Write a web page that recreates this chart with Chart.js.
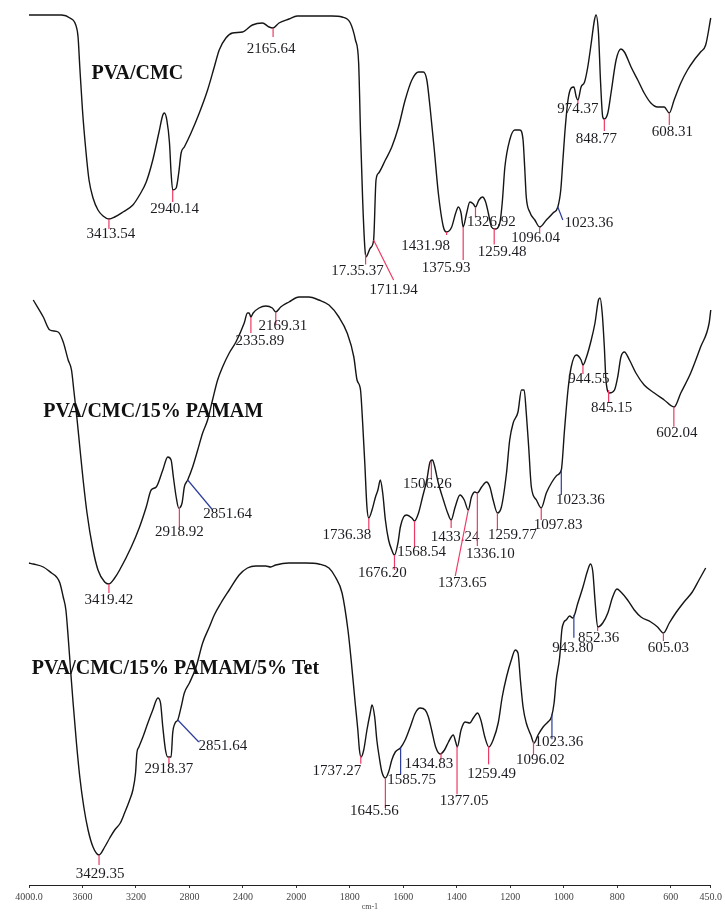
<!DOCTYPE html>
<html lang="en">

<head>
    <meta charset="UTF-8">
    <title>FTIR</title>
    <script src="https://cdn.jsdelivr.net/npm/chart.js"></script>
</head>

<style>
    * {
        box-sizing: border-box;
        margin: 0;
        padding: 0;
    }

    body {
        background: #fff;
        overflow: hidden;
    }
</style>

<body>
    <canvas id="ftirChart" width="725" height="912"></canvas>

    <script>
        // sample names
        const seriesNames = ['PVA/CMC', 'PVA/CMC/15% PAMAM', 'PVA/CMC/15% PAMAM/5% Tet'];

        // x axis ticks (cm-1)
        const tickValues = [4000, 3600, 3200, 2800, 2400, 2000, 1800, 1600, 1400, 1200, 1000, 800, 600, 450];
        const tickLabels = ['4000.0', '3600', '3200', '2800', '2400', '2000', '1800', '1600', '1400', '1200', '1000', '800', '600', '450.0'];

        // PVA/CMC  (wavenumber, stacked transmittance a.u.)
        const wn1 = [4000, 3756, 3694, 3650, 3633, 3620, 3600, 3575, 3551, 3521,
            3484, 3446, 3402, 3359, 3297, 3223, 3173, 3123, 3074, 3029,
            2999, 2987, 2969, 2949, 2937, 2925, 2899, 2880, 2862, 2838,
            2788, 2726, 2664, 2614, 2577, 2527, 2478, 2403, 2329, 2254,
            2204, 2174, 2130, 2055, 1997, 1867, 1829, 1798, 1779, 1767,
            1760, 1752, 1744, 1740, 1723, 1711, 1702, 1692, 1667, 1643,
            1618, 1593, 1568, 1543, 1525, 1512, 1500, 1484, 1469, 1450,
            1438, 1419, 1404, 1394, 1384, 1376, 1363, 1351, 1338, 1330,
            1317, 1304, 1292, 1282, 1270, 1257, 1239, 1230, 1220, 1202,
            1183, 1164, 1152, 1146, 1140, 1127, 1108, 1090, 1065, 1040,
            1022, 1011, 1003, 994, 984, 972, 962, 953, 947, 935,
            922, 910, 897, 885, 879, 870, 862, 854, 848, 835,
            823, 804, 786, 773, 748, 723, 699, 674, 649, 624,
            605, 587, 562, 537, 512, 488, 469, 450];
        const t1 = [87.0, 87.0, 86.7, 86.0, 84.8, 81.8, 77.5, 73.5, 70.5, 68.7,
            67.5, 66.9, 66.6, 66.8, 67.3, 68.0, 69.0, 70.3, 72.5, 75.2,
            77.0, 77.2, 76.5, 74.2, 71.2, 69.5, 69.7, 71.2, 73.2, 73.8,
            75.2, 77.2, 79.5, 81.8, 83.5, 84.7, 85.2, 85.3, 86.0, 86.2,
            85.8, 85.7, 86.2, 86.6, 86.9, 86.9, 86.8, 86.2, 84.5, 82.2,
            75.2, 68.5, 63.8, 62.8, 63.7, 64.5, 70.5, 71.2, 72.5, 73.8,
            75.8, 78.5, 80.5, 81.3, 81.3, 80.5, 77.8, 73.5, 69.2, 65.8,
            65.3, 65.8, 67.2, 67.8, 67.2, 65.8, 67.2, 68.3, 68.1, 67.8,
            68.5, 68.8, 68.3, 67.2, 65.8, 65.6, 66.2, 68.2, 71.8, 74.5,
            75.5, 75.5, 74.5, 71.8, 68.8, 67.3, 66.5, 65.8, 66.5, 67.2,
            67.8, 69.5, 72.5, 75.8, 78.5, 79.7, 79.8, 78.8, 78.5, 79.8,
            80.3, 81.8, 84.2, 86.5, 87.0, 85.2, 80.2, 76.8, 76.6, 77.2,
            79.2, 82.5, 83.6, 83.3, 81.8, 80.5, 79.2, 78.2, 77.8, 77.8,
            77.2, 78.5, 80.2, 81.5, 82.5, 83.3, 84.0, 86.7];

        // PVA/CMC/15% PAMAM
        const wn2 = [3968, 3893, 3844, 3782, 3744, 3707, 3682, 3665, 3640, 3620,
            3595, 3566, 3525, 3484, 3434, 3402, 3359, 3322, 3235, 3173,
            3123, 3086, 3048, 2999, 2962, 2937, 2920, 2899, 2880, 2855,
            2838, 2813, 2776, 2738, 2701, 2664, 2627, 2589, 2552, 2502,
            2452, 2390, 2366, 2353, 2340, 2323, 2279, 2229, 2180, 2154,
            2117, 2055, 1990, 1953, 1916, 1878, 1841, 1810, 1785, 1773,
            1760, 1752, 1744, 1736, 1729, 1717, 1704, 1695, 1686, 1677,
            1667, 1655, 1643, 1633, 1620, 1611, 1599, 1587, 1568, 1558,
            1543, 1528, 1512, 1500, 1491, 1484, 1469, 1450, 1434, 1421,
            1406, 1388, 1372, 1357, 1345, 1332, 1323, 1307, 1289, 1276,
            1264, 1248, 1233, 1214, 1202, 1189, 1171, 1158, 1148, 1140,
            1131, 1121, 1102, 1084, 1065, 1046, 1024, 1009, 997, 984,
            972, 953, 935, 928, 916, 897, 883, 870, 864, 856,
            848, 842, 829, 810, 798, 786, 773, 754, 730, 699,
            661, 624, 587, 562, 525, 488, 456, 450];
        const t2 = [58.5, 56.8, 55.5, 55.3, 54.3, 52.5, 51.5, 49.5, 46.5, 43.8,
            40.5, 37.2, 33.8, 31.5, 30.3, 30.1, 30.7, 31.5, 33.8, 35.8,
            37.8, 39.5, 39.8, 41.5, 42.8, 42.5, 40.8, 38.8, 37.7, 38.2,
            39.8, 40.5, 41.8, 43.5, 45.2, 46.5, 48.5, 50.5, 51.8, 53.2,
            54.3, 56.2, 57.2, 57.2, 56.8, 57.2, 57.7, 57.9, 57.7, 57.3,
            57.8, 58.3, 58.8, 58.8, 58.5, 58.0, 56.8, 55.2, 52.8, 50.5,
            49.5, 46.2, 42.2, 37.8, 36.7, 37.5, 38.8, 39.5, 40.5, 39.2,
            36.5, 34.5, 33.5, 33.0, 34.2, 35.8, 36.8, 37.0, 36.7, 36.4,
            37.2, 38.8, 40.5, 42.3, 42.5, 42.0, 40.2, 38.5, 37.2, 36.5,
            37.8, 39.0, 38.5, 37.5, 38.8, 39.3, 39.2, 39.8, 40.3, 39.8,
            38.5, 37.2, 37.8, 41.2, 44.5, 46.2, 47.3, 49.5, 49.5, 47.2,
            43.8, 39.8, 38.5, 37.7, 39.2, 40.2, 41.0, 41.5, 45.5, 49.5,
            51.8, 53.0, 52.5, 52.0, 52.7, 54.5, 56.2, 58.5, 58.7, 57.2,
            53.8, 50.5, 49.2, 49.5, 50.8, 52.8, 53.3, 52.5, 51.2, 50.0,
            49.2, 48.5, 47.8, 49.2, 51.2, 53.8, 56.2, 57.5];

        // PVA/CMC/15% PAMAM/5% Tet
        const wn3 = [4000, 3968, 3893, 3831, 3794, 3769, 3744, 3724, 3707, 3689,
            3670, 3645, 3620, 3590, 3558, 3521, 3476, 3434, 3396, 3359,
            3317, 3285, 3247, 3223, 3203, 3193, 3178, 3148, 3111, 3074,
            3036, 3016, 2999, 2979, 2962, 2937, 2925, 2907, 2887, 2862,
            2838, 2800, 2750, 2701, 2651, 2614, 2564, 2502, 2428, 2366,
            2303, 2229, 2192, 2154, 2055, 1965, 1916, 1878, 1854, 1829,
            1807, 1795, 1781, 1770, 1764, 1758, 1748, 1736, 1723, 1717,
            1707, 1699, 1690, 1680, 1667, 1655, 1643, 1630, 1611, 1593,
            1574, 1555, 1537, 1518, 1506, 1494, 1479, 1462, 1446, 1431,
            1413, 1404, 1398, 1384, 1369, 1351, 1338, 1322, 1310, 1295,
            1280, 1264, 1245, 1230, 1214, 1196, 1181, 1171, 1162, 1152,
            1140, 1123, 1111, 1096, 1077, 1059, 1046, 1036, 1028, 1015,
            1007, 999, 991, 978, 966, 947, 928, 910, 900, 891,
            883, 873, 854, 835, 817, 801, 786, 761, 736, 711,
            674, 649, 627, 605, 581, 550, 519, 494, 469];
        const t3 = [32.2, 32.1, 31.8, 31.2, 30.8, 30.2, 28.8, 27.5, 24.8, 21.5,
            18.2, 14.2, 10.8, 7.8, 5.5, 3.8, 3.0, 3.8, 4.7, 5.5,
            6.2, 7.2, 8.5, 9.5, 11.2, 13.2, 13.8, 14.8, 16.2, 17.5,
            18.7, 18.2, 15.8, 13.5, 12.8, 12.8, 15.2, 16.2, 16.5, 17.8,
            19.2, 20.2, 21.8, 24.2, 25.8, 27.0, 28.2, 29.5, 31.0, 31.7,
            31.9, 31.9, 31.8, 32.0, 32.2, 32.2, 32.1, 31.7, 30.8, 29.2,
            25.5, 22.5, 18.5, 15.5, 13.5, 12.8, 13.5, 15.5, 17.3, 18.0,
            16.8, 14.5, 12.8, 11.3, 10.7, 11.3, 12.5, 13.3, 13.7, 14.5,
            15.8, 17.2, 17.7, 17.5, 16.8, 15.5, 13.8, 13.1, 13.5, 14.3,
            15.0, 14.3, 13.8, 15.5, 16.3, 16.2, 16.7, 17.2, 16.5, 14.8,
            13.8, 14.5, 16.2, 18.8, 20.8, 22.5, 23.5, 23.2, 20.5, 17.8,
            16.2, 15.0, 14.2, 15.0, 15.8, 16.3, 16.8, 18.2, 20.5, 22.8,
            25.5, 26.3, 26.5, 26.9, 26.7, 28.2, 29.8, 31.5, 32.1, 31.3,
            28.5, 25.8, 26.2, 27.2, 28.8, 29.6, 29.3, 28.5, 27.5, 26.8,
            26.3, 25.8, 25.2, 26.2, 27.2, 28.3, 29.3, 30.5, 31.7];

        // peak picks: marker position (cm-1) and printed value
        const peaks1 = [[3402, '3413.54'], [2925, '2940.14'], [2174, '2165.64'], [1741, '17.35.37'],
            [1711, '1711.94'], [1438, '1431.98'], [1376, '1375.93'], [1330, '1326.92'], [1260, '1259.48'],
            [1090, '1096.04'], [1022, '1023.36'], [947, '974.37'], [848, '848.77'], [605, '608.31']];
        const peaks2 = [[3402, '3419.42'], [2875, '2918.92'], [2813, '2851.64'], [2340, '2335.89'],
            [2154, '2169.31'], [1729, '1736.38'], [1633, '1676.20'], [1558, '1568.54'], [1495, '1506.26'],
            [1421, '1433.24'], [1357, '1373.65'], [1323, '1336.10'], [1248, '1259.77'], [1084, '1097.83'],
            [1009, '1023.36'], [928, '944.55'], [832, '845.15'], [588, '602.04']];
        const peaks3 = [[3476, '3429.35'], [2953, '2918.37'], [2887, '2851.64'], [1759, '1737.27'],
            [1667, '1645.56'], [1610, '1585.75'], [1459, '1434.83'], [1399, '1377.05'], [1281, '1259.49'],
            [1113, '1096.02'], [1044, '1023.36'], [962, '943.80'], [873, '852.36'], [627, '605.03']];

        // label layout: line end dx, dy / text centre dx, dy (px from the curve), colour
        const marks1 = [[0, 10, 2, 15, 'r'], [0, 12, 2, 19, 'r'], [0, 9, -2, 21, 'r'], [0, 10, -8, 17, 'r'],
            [20, 40, 20, 50, 'r'], [0, 3, -21, 14, 'r'], [0, 33, -17, 41, 'r'], [0, 10, 16, 15, 'r'], [0, 16, 8, 24, 'r'],
            [0, 5, -4, 11, 'r'], [5, 13, 31, 16, 'b'], [0, 4, 0, 9, 'r'], [0, 12, -8, 20, 'r'], [0, 12, 3, 19, 'r']];
        const marks2 = [[0, 9, 0, 16, 'r'], [0, 20, 0, 25, 'r'], [25, 30, 40, 34, 'b'], [0, 16, 9, 24, 'r'],
            [0, 13, 7, 14, 'r'], [0, 12, -22, 17, 'r'], [0, 15, -12, 18, 'r'], [0, 26, 7, 31, 'r'], [0, 18, -4, 23, 'r'],
            [0, 8, 4, 17, 'r'], [-13, 66, -6, 73, 'r'], [0, 53, 13, 61, 'r'], [0, 17, 15, 22, 'r'], [0, 12, 17, 17, 'r'],
            [0, 25, 19, 30, 'b'], [0, 9, 6, 14, 'r'], [0, 12, 3, 18, 'r'], [0, 20, 3, 26, 'r']];
        const marks3 = [[0, 10, 1, 19, 'r'], [0, 8, 0, 12, 'r'], [21, 22, 45, 26, 'b'], [0, 8, -24, 15, 'r'],
            [0, 30, -11, 33, 'r'], [0, 27, 11, 33, 'b'], [0, 7, -12, 11, 'r'], [0, 48, 7, 55, 'r'], [0, 18, 3, 28, 'r'],
            [0, 13, 7, 18, 'r'], [0, 25, 7, 28, 'b'], [0, 23, -1, 33, 'b'], [0, 4, 1, 11, 'r'], [0, 8, 5, 15, 'r']];

        // where the sample names sit (cm-1, a.u.)
        const titleAt = [[3533, 81.1], [3893, 47.3], [3980, 21.6]];

        const markColors = { r: '#ec3a64', b: '#2c3c9c' };
    </script>

    <script>
        // axis with the 2000 cm-1 scale change: above 2000 is drawn at half scale
        class WaveScale extends Chart.LinearScale {
            fold(v) {
                return v >= 2000 ? 2000 + (v - 2000) / 2 : v;
            }
            unfold(c) {
                return c >= 2000 ? 2000 + (c - 2000) * 2 : c;
            }
            getPixelForValue(v) {
                const a = this.fold(this.max), b = this.fold(this.min);
                return this.getPixelForDecimal((a - this.fold(v)) / (a - b));
            }
            getValueForPixel(p) {
                const a = this.fold(this.max), b = this.fold(this.min);
                return this.unfold(a - this.getDecimalForPixel(p) * (a - b));
            }
        }
        WaveScale.id = 'wave';
        WaveScale.defaults = Chart.LinearScale.defaults;
        Chart.register(WaveScale);

        function toPoints(xs, ys) {
            return xs.map((x, i) => ({ x: x, y: ys[i] }));
        }

        function curveY(pts, x) {
            for (let k = 0; k < pts.length - 1; k++) {
                const p = pts[k], q = pts[k + 1];
                if (x >= p.x && x <= q.x) {
                    const f = q.x === p.x ? 0 : (x - p.x) / (q.x - p.x);
                    return p.y + f * (q.y - p.y);
                }
            }
            return pts[pts.length - 1].y;
        }

        const allPeaks = [peaks1, peaks2, peaks3];
        const allMarks = [marks1, marks2, marks3];

        const peakLabels = {
            id: 'peakLabels',
            afterDatasetsDraw(chart) {
                const ctx = chart.ctx;
                const xs = chart.scales.x, ys = chart.scales.y;
                ctx.save();
                allPeaks.forEach((peaks, i) => {
                    const pts = chart.getDatasetMeta(i).data;
                    peaks.forEach((pk, j) => {
                        const m = allMarks[i][j];
                        const x = xs.getPixelForValue(pk[0]);
                        const y = curveY(pts, x);
                        ctx.strokeStyle = markColors[m[4]];
                        ctx.lineWidth = 1.2;
                        ctx.beginPath();
                        ctx.moveTo(x, y);
                        ctx.lineTo(x + m[0], y + m[1]);
                        ctx.stroke();
                        ctx.fillStyle = '#1c1c22';
                        ctx.font = '15px "Liberation Serif"';
                        ctx.textAlign = 'center';
                        ctx.textBaseline = 'middle';
                        ctx.fillText(pk[1], x + m[2], y + m[3]);
                    });
                });
                ctx.fillStyle = '#111';
                ctx.font = 'bold 20px "Liberation Serif"';
                ctx.textAlign = 'left';
                ctx.textBaseline = 'middle';
                seriesNames.forEach((name, i) => {
                    ctx.fillText(name, xs.getPixelForValue(titleAt[i][0]), ys.getPixelForValue(titleAt[i][1]));
                });
                ctx.restore();
            }
        };

        const traceData = [toPoints(wn1, t1), toPoints(wn2, t2), toPoints(wn3, t3)];

        const config = {
            type: 'line',
            data: {
                datasets: traceData.map((d, i) => ({
                    label: seriesNames[i],
                    data: d,
                    borderColor: '#151515',
                    borderWidth: 1.4,
                    pointRadius: 0,
                    cubicInterpolationMode: 'monotone',
                    clip: false
                }))
            },
            plugins: [peakLabels],
            options: {
                responsive: false,
                animation: false,
                devicePixelRatio: 1,
                layout: {
                    padding: { left: 29, right: 11, top: 15, bottom: 0 }
                },
                plugins: {
                    legend: { display: false },
                    tooltip: { enabled: false }
                },
                scales: {
                    x: {
                        type: 'wave',
                        min: 450,
                        max: 4000,
                        afterBuildTicks: (s) => {
                            s.ticks = tickValues.map(v => ({ value: v }));
                        },
                        afterFit: (s) => {
                            s.height = 27;
                        },
                        grid: {
                            drawOnChartArea: false,
                            drawTicks: true,
                            tickLength: 3,
                            color: '#333'
                        },
                        border: { display: true, color: '#222', width: 1 },
                        ticks: {
                            autoSkip: false,
                            maxRotation: 0,
                            padding: 3,
                            color: '#444',
                            font: { family: 'Liberation Serif', size: 10 },
                            callback: (v, i) => tickLabels[i]
                        },
                        title: {
                            display: true,
                            text: 'cm-1',
                            color: '#444',
                            font: { family: 'Liberation Serif', size: 8 },
                            padding: { top: 0, bottom: 0 }
                        }
                    },
                    y: {
                        display: false,
                        min: 0,
                        max: 87
                    }
                }
            }
        };

        const ftirChart = new Chart(document.getElementById('ftirChart'), config);
    </script>

</body>

</html>
